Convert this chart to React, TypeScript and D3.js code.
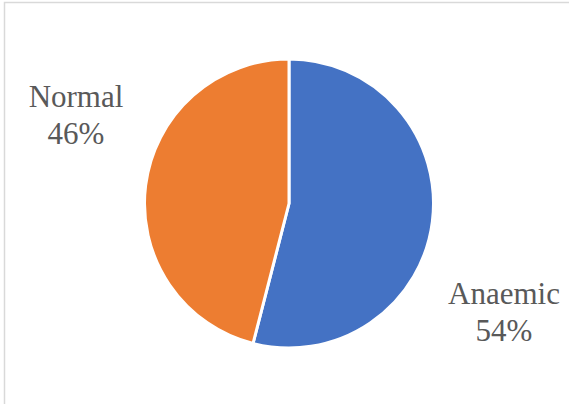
import React from "react";
import * as d3 from "d3";

const categories = ["Anaemic", "Normal"];
const values = [54, 46];
const colors = ["#4472C4", "#ED7D31"];
// label anchor offsets (px) relative to pie centre, best-fit placement
const labelOffsets: [number, number][] = [
  [215, 100.5],
  [-213, -96.5],
];

const W = 569;
const H = 404;

export default function App() {
  const cx = 289;
  const cy = 203.5;
  const r = 144.5;
  const pie = d3
    .pie<number>()
    .sort(null)
    .value((d) => d)
    .startAngle(0)
    .endAngle(2 * Math.PI);
  const arcs = pie(values);
  const arc = d3.arc<d3.PieArcDatum<number>>().innerRadius(0).outerRadius(r);
  const total = d3.sum(values);
  const fmt = d3.format(".0%");

  return (
    <svg
      width={W}
      height={H}
      style={{ position: "absolute", left: 0, top: 0 }}
    >
      <rect x={0} y={0} width={W} height={H} fill="#fff" />
      <rect
        x={4.5}
        y={2.5}
        width={W + 20}
        height={H + 20}
        fill="none"
        stroke="#d9d9d9"
        strokeWidth={1.5}
      />
      <g transform={`translate(${cx},${cy})`}>
        {arcs.map((a, i) => (
          <path
            key={categories[i]}
            d={arc(a) || ""}
            fill={colors[i]}
            stroke="#fff"
            strokeWidth={3}
            strokeLinejoin="round"
          />
        ))}
        {arcs.map((a, i) => (
          <text
            key={"l" + categories[i]}
            x={labelOffsets[i][0]}
            y={labelOffsets[i][1]}
            textAnchor="middle"
            fill="#595959"
            style={{ fontFamily: "Liberation Serif, 'Times New Roman', Times, serif", fontSize: "31px" }}
          >
            <tspan x={labelOffsets[i][0]} dy={0}>
              {categories[i]}
            </tspan>
            <tspan x={labelOffsets[i][0]} dy={37}>
              {fmt(values[i] / total)}
            </tspan>
          </text>
        ))}
      </g>
    </svg>
  );
}
